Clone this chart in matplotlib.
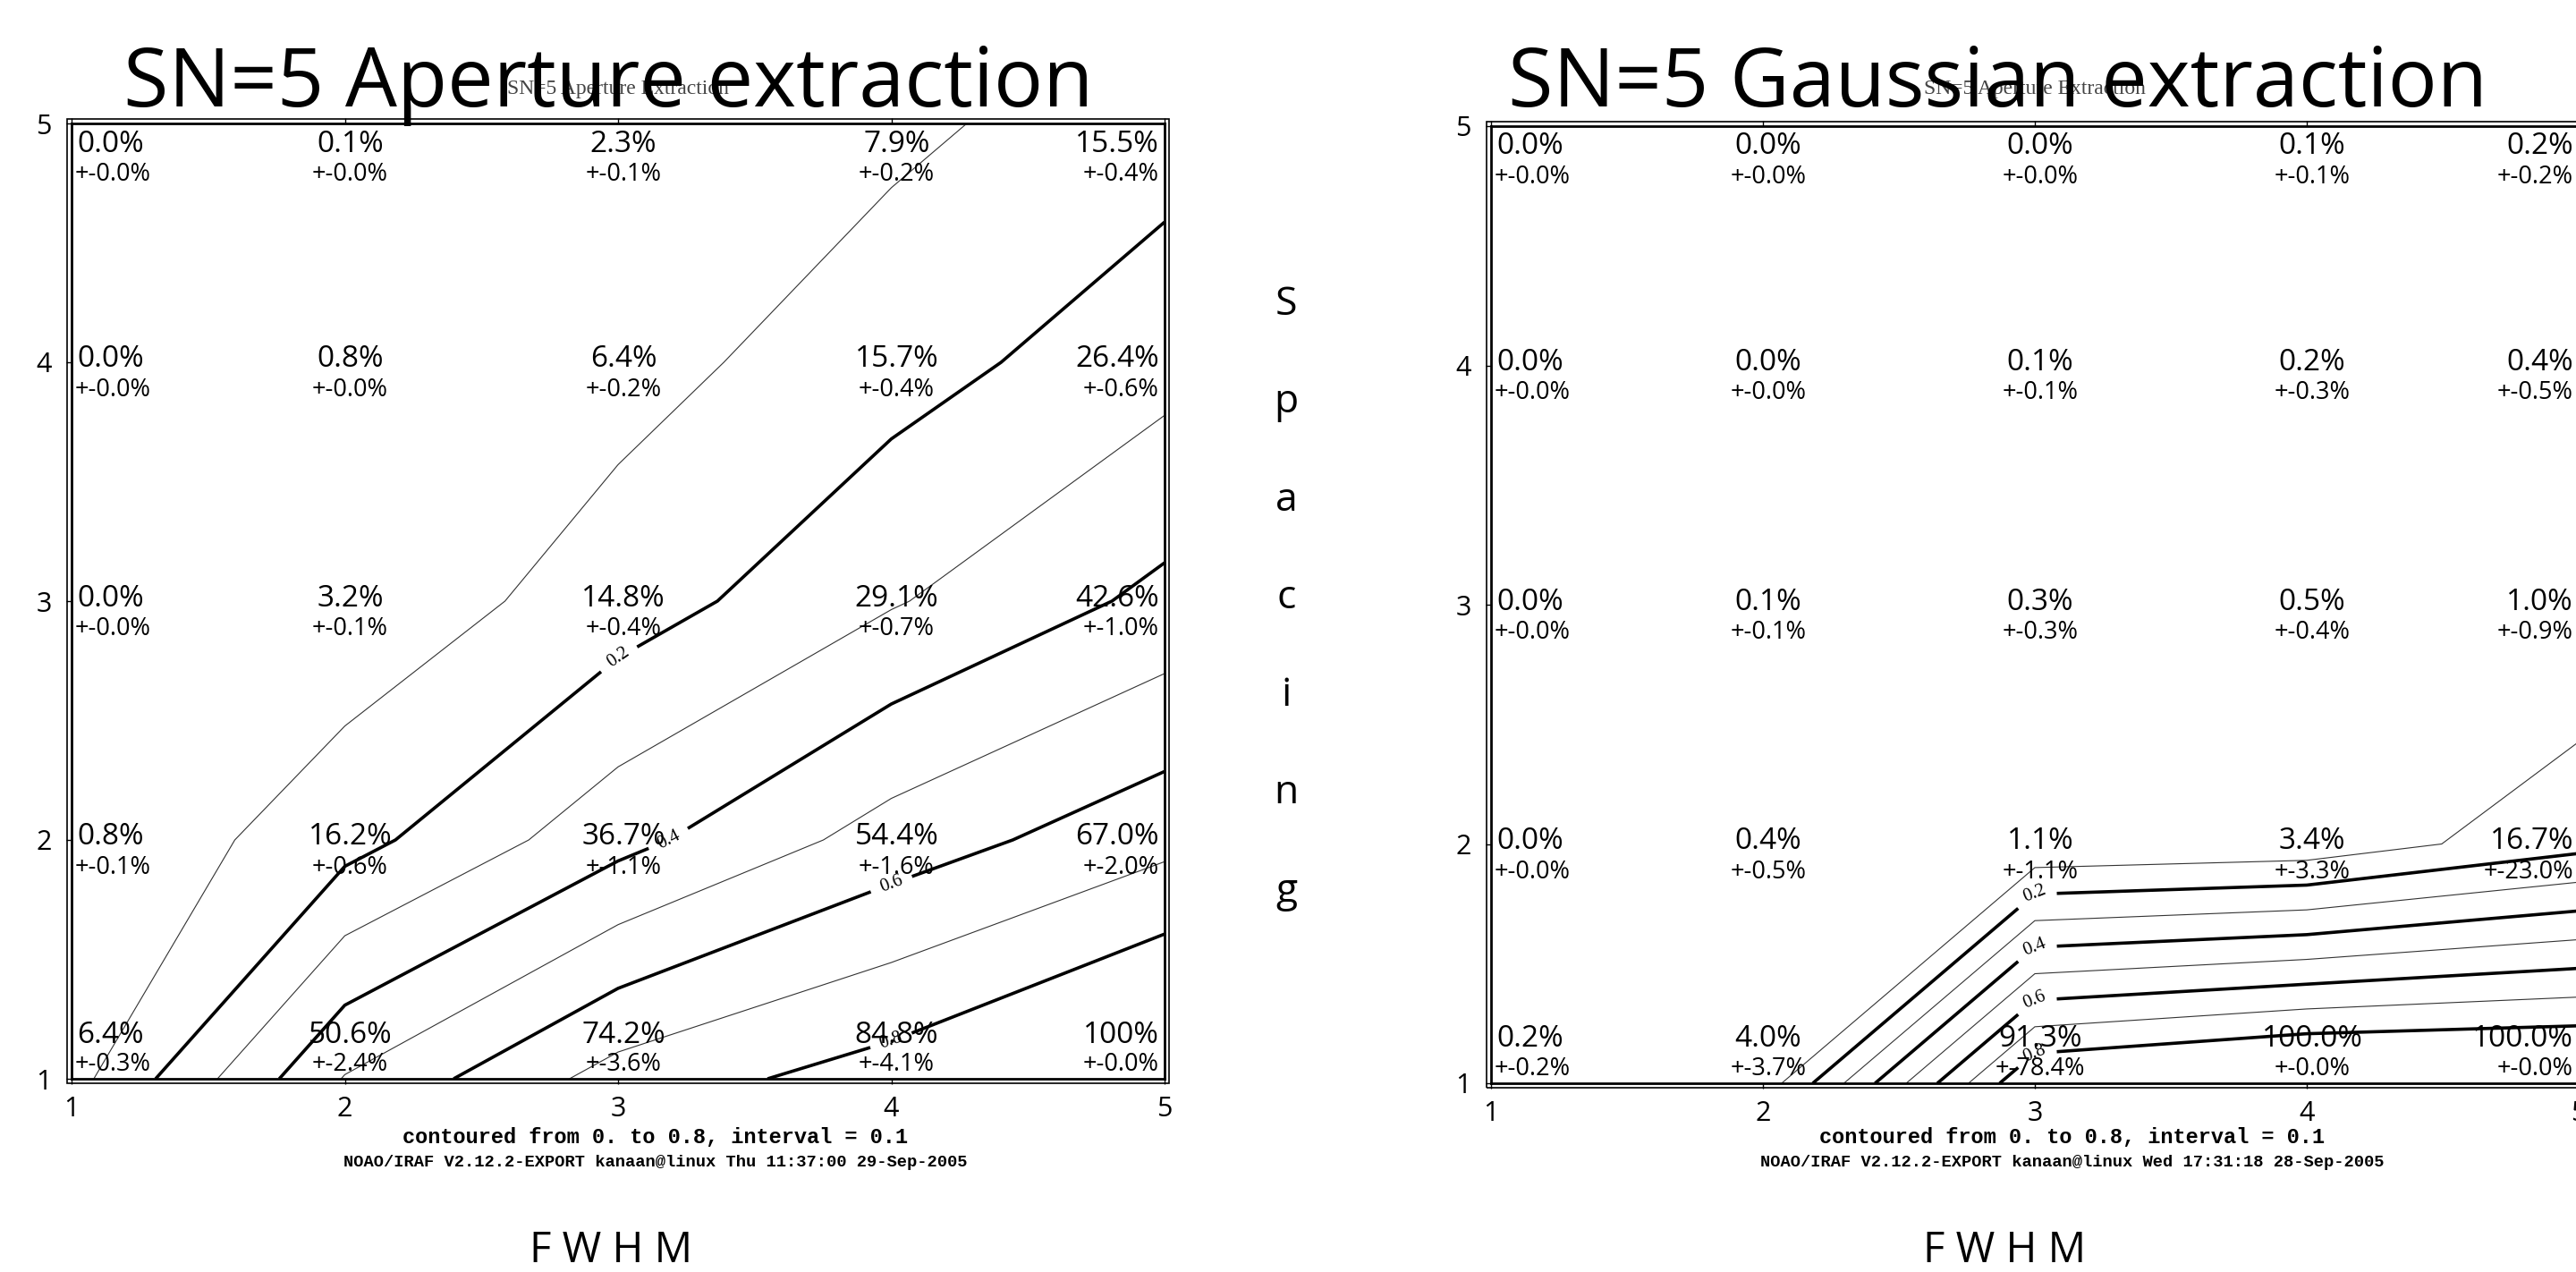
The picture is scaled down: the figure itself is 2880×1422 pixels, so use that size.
import numpy as np
import matplotlib
matplotlib.use("Agg")
import matplotlib.pyplot as plt
from matplotlib.patches import Rectangle

plt.rcParams['font.family'] = ['Open Sans', 'DejaVu Sans']

# grid: FWHM along x, spacing along y (rows = spacing 1..5)
fwhm = [1, 2, 3, 4, 5]
spacing = [1, 2, 3, 4, 5]

# contamination in percent, aperture extraction
aper_pct = [
    [6.4, 50.6, 74.2, 84.8, 100.0],
    [0.8, 16.2, 36.7, 54.4, 67.0],
    [0.0, 3.2, 14.8, 29.1, 42.6],
    [0.0, 0.8, 6.4, 15.7, 26.4],
    [0.0, 0.1, 2.3, 7.9, 15.5],
]
aper_err = [
    [0.3, 2.4, 3.6, 4.1, 0.0],
    [0.1, 0.6, 1.1, 1.6, 2.0],
    [0.0, 0.1, 0.4, 0.7, 1.0],
    [0.0, 0.0, 0.2, 0.4, 0.6],
    [0.0, 0.0, 0.1, 0.2, 0.4],
]

# gaussian extraction
gaus_pct = [
    [0.2, 4.0, 91.3, 100.0, 100.0],
    [0.0, 0.4, 1.1, 3.4, 16.7],
    [0.0, 0.1, 0.3, 0.5, 1.0],
    [0.0, 0.0, 0.1, 0.2, 0.4],
    [0.0, 0.0, 0.0, 0.1, 0.2],
]
gaus_err = [
    [0.2, 3.7, 78.4, 0.0, 0.0],
    [0.0, 0.5, 1.1, 3.3, 23.0],
    [0.0, 0.1, 0.3, 0.4, 0.9],
    [0.0, 0.0, 0.1, 0.3, 0.5],
    [0.0, 0.0, 0.0, 0.1, 0.2],
]

thin_levels = [0.1, 0.3, 0.5, 0.7]
thick_levels = [0.2, 0.4, 0.6, 0.8]

W, H = 2880, 1422
fig = plt.figure(figsize=(W / 100, H / 100), dpi=100)


def px_axes(x0, x1, ytop, ybot):
    return fig.add_axes([x0 / W, 1 - ybot / H, (x1 - x0) / W, (ybot - ytop) / H])


def draw_panel(ax, pct, err, short100, footer_x, stamp):
    X, Y = np.meshgrid(fwhm, spacing)
    Z = np.array(pct) / 100.0
    ax.contour(X, Y, Z, levels=thin_levels, colors='#333333', linewidths=0.8)
    cs = ax.contour(X, Y, Z, levels=thick_levels, colors='black', linewidths=2.6)
    labels = ax.clabel(cs, fmt='%.1f', fontsize=15, inline=True, inline_spacing=10)
    for t in labels:
        t.set_family('Liberation Serif')

    ax.set_xlim(1, 5)
    ax.set_ylim(1, 5)
    ax.set_xticks(fwhm)
    ax.set_yticks(spacing)
    ax.tick_params(axis='both', direction='out', length=4, width=1, labelsize=22)
    ax.tick_params(axis='x', pad=10, top=True)
    ax.tick_params(axis='y', pad=12)
    for s in ax.spines.values():
        s.set_linewidth(2.0)
    # second, outer frame line like the IRAF plot
    ax.add_patch(Rectangle((-0.004, -0.005), 1.008, 1.01, transform=ax.transAxes,
                           fill=False, lw=1.2, ec='black', clip_on=False))

    for i, sp in enumerate(spacing):
        for j, fw in enumerate(fwhm):
            v = pct[i][j]
            main = "100%" if (short100 and v >= 100) else f"{v:.1f}%"
            sub = f"+-{err[i][j]:.1f}%"
            if j == 0:
                ha, dx = 'left', 6
            elif j == len(fwhm) - 1:
                ha, dx = 'right', -6
            else:
                ha, dx = 'center', 6
            if sp == spacing[-1]:
                dy_main, dy_sub = -23, -57
            elif sp == spacing[0]:
                dy_main, dy_sub = 49, 16
            else:
                dy_main, dy_sub = 3, -31
            ax.annotate(main, xy=(fw, sp), xytext=(dx, dy_main), textcoords='offset pixels',
                        ha=ha, va='center', fontsize=24, annotation_clip=False)
            ax.annotate(sub, xy=(fw, sp), xytext=(dx - 2 if j == 0 else dx, dy_sub),
                        textcoords='offset pixels', ha=ha, va='center', fontsize=19.5,
                        annotation_clip=False)

    fig.text(footer_x / W, 1 - 1272 / H, "contoured from 0. to 0.8, interval = 0.1",
             ha='center', va='center', fontsize=17, family='Liberation Mono', weight='bold')
    fig.text(footer_x / W, 1 - 1300 / H, stamp,
             ha='center', va='center', fontsize=13.5, family='Liberation Mono', weight='bold')


ax1 = px_axes(80, 1302, 138, 1206)
ax2 = px_axes(1667, 2883, 141, 1211)

draw_panel(ax1, aper_pct, aper_err, True, 733,
           "NOAO/IRAF V2.12.2-EXPORT kanaan@linux Thu 11:37:00 29-Sep-2005")
draw_panel(ax2, gaus_pct, gaus_err, False, 2317,
           "NOAO/IRAF V2.12.2-EXPORT kanaan@linux Wed 17:31:18 28-Sep-2005")

# small original IRAF titles, hidden behind the slide titles
fig.text(691 / W, 1 - 100 / H, "SN=5 Aperture Extraction", ha='center', va='center',
         fontsize=17, family='Liberation Serif', color='#444444')
fig.text(2275 / W, 1 - 100 / H, "SN=5 Aperture Extraction", ha='center', va='center',
         fontsize=17, family='Liberation Serif', color='#444444')

# slide titles
fig.text(680 / W, 1 - 119 / H, "SN=5 Aperture extraction", ha='center', va='baseline',
         fontsize=66)
fig.text(2233 / W, 1 - 119 / H, "SN=5 Gaussian extraction", ha='center', va='baseline',
         fontsize=66)

# vertical "Spacing" label between the panels
for k, ch in enumerate("Spacing"):
    fig.text(1438 / W, 1 - (352 + 109.3 * k) / H, ch, ha='center', va='baseline', fontsize=32)

fig.text(683 / W, 1 - 1411 / H, "F W H M", ha='center', va='baseline', fontsize=34)
fig.text(2241 / W, 1 - 1411 / H, "F W H M", ha='center', va='baseline', fontsize=34)

fig.savefig("out.png", dpi=100, facecolor='white')
